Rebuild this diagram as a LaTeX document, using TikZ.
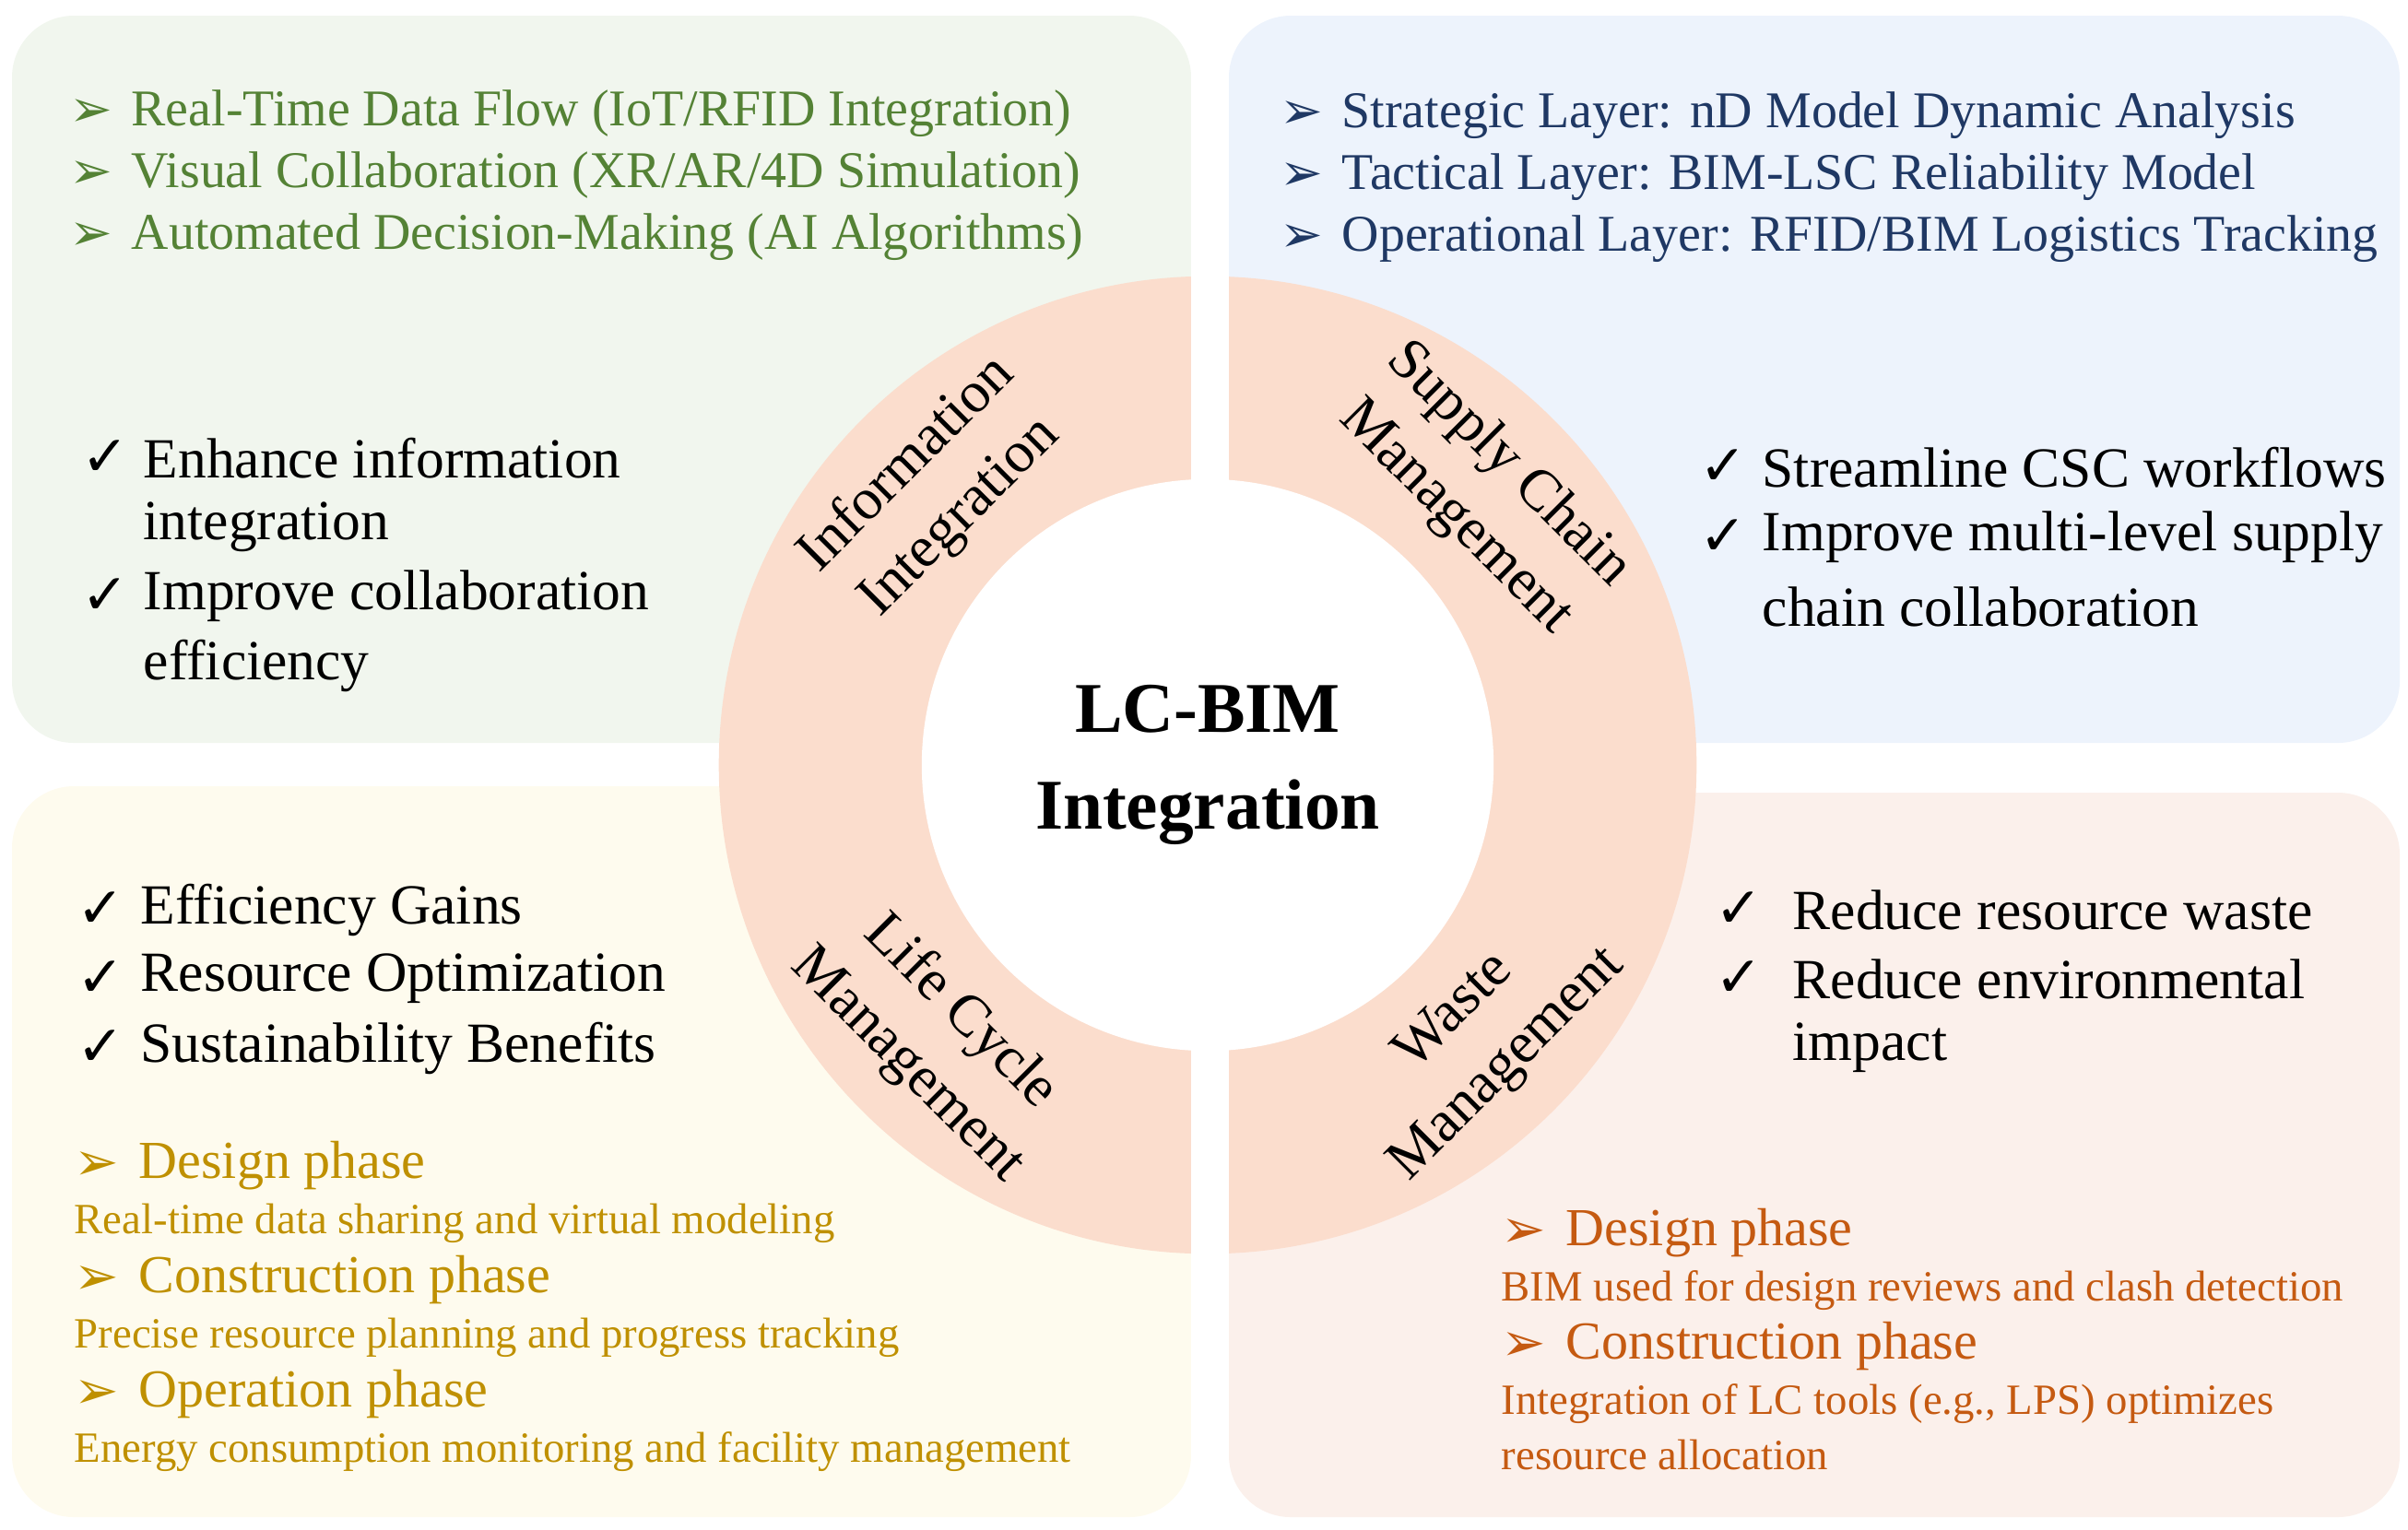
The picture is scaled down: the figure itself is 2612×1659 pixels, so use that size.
\documentclass[tikz,border=0pt]{standalone}
\usepackage{fontspec}
\setmainfont{Liberation Serif}
\newfontfamily\dingfont{DejaVu Sans}
\usetikzlibrary{calc,positioning}

\definecolor{pgreen}{HTML}{F1F6EE}
\definecolor{pblue}{HTML}{EDF3FC}
\definecolor{pyellow}{HTML}{FEFBEE}
\definecolor{ppink}{HTML}{FBF0EB}
\definecolor{ringc}{HTML}{FBDDCD}
\definecolor{tgreen}{HTML}{548235}
\definecolor{tblue}{HTML}{1F3864}
\definecolor{tyellow}{HTML}{BF9000}
\definecolor{torange}{HTML}{C55A11}

\newcommand{\arr}{{\dingfont\char"27A2}}
\newcommand{\chk}{{\dingfont\char"2713}}

\begin{document}
\begin{tikzpicture}[x=0.01cm,y=-0.01cm,
panel/.style={rounded corners=0.67cm},
item/.style={anchor=west,inner sep=0pt,font=\fontsize{15.9}{18}\selectfont},
check/.style={anchor=west,inner sep=0pt,font=\fontsize{17.5}{22}\selectfont},
head/.style={anchor=west,inner sep=0pt,font=\fontsize{16.5}{20}\selectfont},
sub/.style={anchor=west,inner sep=0pt,font=\fontsize{13.3}{15}\selectfont},
ring/.style={align=center,font=\fontsize{18}{23}\selectfont,inner sep=0pt}]

\useasboundingbox (0,0) rectangle (2612,1659);

%% panels
\fill[pgreen,panel] (13,17) rectangle (1292,806);
\fill[pblue,panel] (1333,17) rectangle (2603,806);
\fill[pyellow,panel] (13,853) rectangle (1292,1646);
\fill[ppink,panel] (1333,860) rectangle (2603,1646);

%% ring with the white cross and the hole
\coordinate (c) at (1310,830);
\fill[ringc] (c) circle[radius=5.3cm];
\fill[white] (1292,0) rectangle (1333,1659);
\fill[white] (1160,806) rectangle (1460,856);
\fill[white] (c) circle[radius=3.1cm];

%% centre title
\node[font=\bfseries\fontsize{22}{30}\selectfont,align=center] (title) at (c) {LC-BIM\\Integration};

%% ring labels
\node[ring,rotate=45] (info) at ($(c)+(135:4.2cm)$) {Information\\Integration};
\node[ring,rotate=-45] (supply) at ($(c)+(45:4.2cm)$) {Supply Chain\\Management};
\node[ring,rotate=-45] (life) at ($(c)+(225:4.2cm)$) {Life Cycle\\Management};
\node[ring,rotate=45] (waste) at ($(c)+(315:4.2cm)$) {Waste\\Management};

%% top left
\foreach \t [count=\i] in {Real-Time Data Flow (IoT/RFID Integration),
  Visual Collaboration (XR/AR/4D Simulation),
  Automated Decision-Making (AI Algorithms)}{
  \node[item,tgreen] (ga-\i) at (75,{123+(\i-1)*67}) {\arr};
  \node[item,tgreen] (gt-\i) at (142,{123+(\i-1)*67}) {\t};
}
\node[check] (ck-1) at (88,497) {\chk};
\node[check] (ct-1) at (155,497) {Enhance information};
\node[check] (ct-2) at (155,572) {integration};
\node[check] (ck-2) at (88,647) {\chk};
\node[check] (ct-3) at (155,647) {Improve collaboration};
\node[check] (ct-4) at (155,722) {efficiency};

%% top right
\foreach \t [count=\i] in {Strategic Layer: nD Model Dynamic Analysis,
  Tactical Layer: BIM-LSC Reliability Model,
  Operational Layer: RFID/BIM Logistics Tracking}{
  \node[item,tblue] (ba-\i) at (1388,{125+(\i-1)*67}) {\arr};
  \node[item,tblue] (bt-\i) at (1455,{125+(\i-1)*67}) {\t};
}
\node[check] (sk-1) at (1843,507) {\chk};
\node[check] (st-1) at (1911,507) {Streamline CSC workflows};
\node[check] (sk-2) at (1843,583) {\chk};
\node[check] (st-2) at (1911,583) {Improve multi-level supply};
\node[check] (st-3) at (1911,658) {chain collaboration};

%% bottom left
\foreach \t [count=\i] in {Efficiency Gains,Resource Optimization,Sustainability Benefits}{
  \node[check] (lk-\i) at (83,{987+(\i-1)*75}) {\chk};
  \node[check] (lt-\i) at (152,{987+(\i-1)*75}) {\t};
}
\foreach \h/\s [count=\i] in {Design phase/Real-time data sharing and virtual modeling,
  Construction phase/Precise resource planning and progress tracking,
  Operation phase/Energy consumption monitoring and facility management}{
  \node[head,tyellow] (ya-\i) at (80,{1265+(\i-1)*124}) {\arr};
  \node[head,tyellow] (yh-\i) at (150,{1265+(\i-1)*124}) {\h};
  \node[sub,tyellow] (ys-\i) at (80,{1327+(\i-1)*124}) {\s};
}

%% bottom right
\node[check] (wk-1) at (1860,987) {\chk};
\node[check] (wt-1) at (1944,987) {Reduce resource waste};
\node[check] (wk-2) at (1860,1062) {\chk};
\node[check] (wt-2) at (1944,1062) {Reduce environmental};
\node[check] (wt-3) at (1944,1137) {impact};
\node[head,torange] (oa-1) at (1628,1338) {\arr};
\node[head,torange] (oh-1) at (1698,1338) {Design phase};
\node[sub,torange] (os-1) at (1628,1400) {BIM used for design reviews and clash detection};
\node[head,torange] (oa-2) at (1628,1461) {\arr};
\node[head,torange] (oh-2) at (1698,1461) {Construction phase};
\node[sub,torange] (os-2) at (1628,1523) {Integration of LC tools (e.g., LPS) optimizes};
\node[sub,torange] (os-3) at (1628,1578) {resource allocation};

\end{tikzpicture}
\end{document}
